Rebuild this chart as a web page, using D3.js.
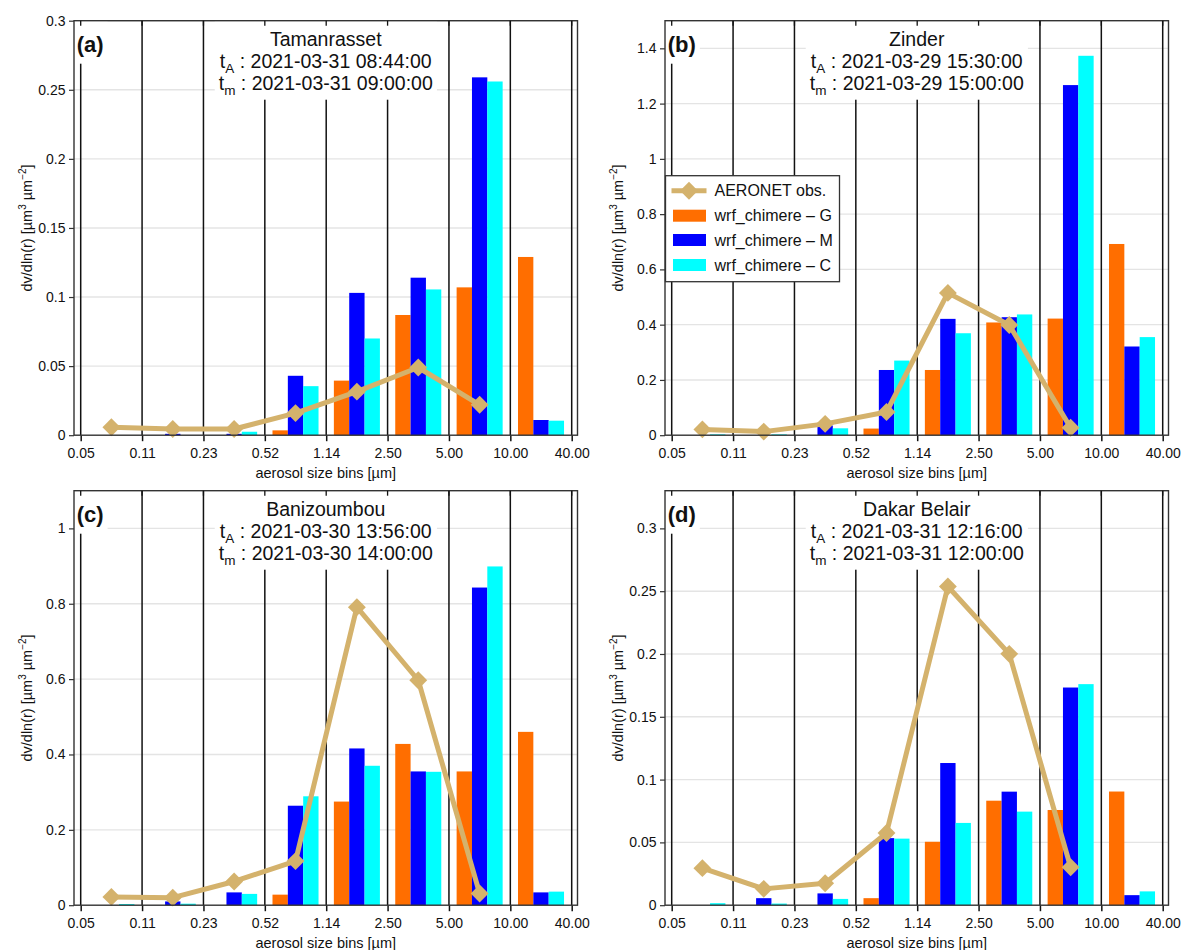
<!DOCTYPE html>
<html><head><meta charset="utf-8">
<script src="https://cdn.jsdelivr.net/npm/d3@7"></script>
<style>
body{margin:0;background:#fff;}
svg{display:block;font-family:"Liberation Sans",Arial,Helvetica,sans-serif;}
</style>
</head><body>
<svg id="chart" width="1181" height="950"></svg>
<script>
// ---------------- data ----------------
const binEdges = ["0.05","0.11","0.23","0.52","1.14","2.50","5.00","10.00","40.00"];
const seriesNames = ["wrf_chimere – G","wrf_chimere – M","wrf_chimere – C"];
const obsName = "AERONET obs.";
const stations = ["Tamanrasset","Zinder","Banizoumbou","Dakar Belair"];
const panelLetters = ["(a)","(b)","(c)","(d)"];
const timeAeronet = ["2021-03-31 08:44:00","2021-03-29 15:30:00","2021-03-30 13:56:00","2021-03-31 12:16:00"];
const timeModel   = ["2021-03-31 09:00:00","2021-03-29 15:00:00","2021-03-30 14:00:00","2021-03-31 12:00:00"];
const yMax = [0.3, 1.5, 1.1, 0.33];
const yTicksA = [0,0.05,0.1,0.15,0.2,0.25,0.3];
const yTicksB = [0,0.2,0.4,0.6,0.8,1,1.2,1.4];
const yTicksC = [0,0.2,0.4,0.6,0.8,1];
const yTicksD = [0,0.05,0.1,0.15,0.2,0.25,0.3];

// (a) Tamanrasset
const gA   = [0, 0, 0, 0.0035, 0.0395, 0.087, 0.107, 0.129];
const mA   = [0, 0.001, 0.001, 0.043, 0.103, 0.114, 0.259, 0.011];
const cA   = [0, 0, 0.0025, 0.0355, 0.070, 0.1055, 0.256, 0.0105];
const obsA = [0.0058, 0.0045, 0.0045, 0.016, 0.0315, 0.049, 0.022];
// (b) Zinder
const gB   = [0, 0, 0, 0.024, 0.236, 0.408, 0.422, 0.692];
const mB   = [0, 0, 0.035, 0.236, 0.421, 0.427, 1.267, 0.321];
const cB   = [0.003, 0.003, 0.025, 0.270, 0.369, 0.437, 1.373, 0.355];
const obsB = [0.021, 0.013, 0.041, 0.084, 0.515, 0.399, 0.027];
// (c) Banizoumbou
const gC   = [0, 0, 0, 0.028, 0.275, 0.428, 0.355, 0.460];
const mC   = [0, 0.010, 0.034, 0.264, 0.416, 0.355, 0.843, 0.034];
const cC   = [0.003, 0.004, 0.030, 0.289, 0.370, 0.354, 0.899, 0.036];
const obsC = [0.022, 0.020, 0.063, 0.117, 0.791, 0.597, 0.031];
// (d) Dakar Belair
const gD   = [0, 0, 0, 0.0056, 0.0505, 0.0832, 0.0758, 0.0905];
const mD   = [0, 0.0056, 0.0094, 0.0534, 0.1132, 0.0904, 0.1733, 0.008];
const cD   = [0.0016, 0.0013, 0.005, 0.053, 0.0655, 0.0745, 0.176, 0.011];
const obsD = [0.0295, 0.013, 0.0175, 0.0575, 0.2537, 0.2001, 0.0302];

const modelData = [[gA,mA,cA],[gB,mB,cB],[gC,mC,cC],[gD,mD,cD]];
const obsData = [obsA, obsB, obsC, obsD];
const yTicks = [yTicksA, yTicksB, yTicksC, yTicksD];

// ---------------- style / layout ----------------
const seriesColors = ["#ff6e00","#0000ff","#00ffff"];
const obsColor = "#d4b26c";
const colLeft = [74, 665];
const rowTop = [20.7, 490.7];
const pw = 503.5, ph = 414.5;

const svg = d3.select("#chart");

function diamond(sel, size){
  sel.attr("d", d3.symbol(d3.symbolSquare, size)());
}

modelData.forEach((series, i) => {
  const L = colLeft[i % 2], T = rowTop[Math.floor(i / 2)];
  const R = L + pw, B = T + ph;
  const g = svg.append("g");

  const x = d3.scalePoint().domain(binEdges).range([L + 6.7, R - 5.8]);
  const bins = d3.range(binEdges.length - 1);
  const xb = d3.scaleBand().domain(bins).range([L + 6.7, R - 5.8]).padding(0);
  const bw = xb.bandwidth();
  const xs = d3.scaleBand().domain(seriesNames).range([bw / 8, bw * 7 / 8]).padding(0);
  const y = d3.scaleLinear().domain([0, yMax[i]]).range([B, T]);

  // gridlines
  g.append("g").selectAll("line").data(yTicks[i].filter(v => v > 0)).join("line")
    .attr("x1", L).attr("x2", R).attr("y1", d => y(d)).attr("y2", d => y(d))
    .attr("stroke", "#e4e4e4").attr("stroke-width", 1.4);

  // bars
  seriesNames.forEach((s, k) => {
    g.append("g").selectAll("rect").data(series[k]).join("rect")
      .attr("x", (d, j) => xb(j) + xs(s))
      .attr("width", xs.bandwidth())
      .attr("y", d => y(d))
      .attr("height", d => B - y(d))
      .attr("fill", seriesColors[k]);
  });

  // vertical bin edge lines
  g.append("g").selectAll("line").data(binEdges).join("line")
    .attr("x1", d => x(d)).attr("x2", d => x(d))
    .attr("y1", T).attr("y2", B)
    .attr("stroke", "#111").attr("stroke-width", 1.5);

  // observation line
  const obs = obsData[i];
  g.append("path").datum(obs)
    .attr("fill", "none").attr("stroke", obsColor).attr("stroke-width", 5)
    .attr("stroke-linejoin", "round")
    .attr("d", d3.line().x((d, j) => xb(j) + bw / 2).y(d => y(d)));
  g.append("g").selectAll("path").data(obs).join("path")
    .call(diamond, 160)
    .attr("transform", (d, j) => `translate(${xb(j) + bw / 2},${y(d)}) rotate(45)`)
    .attr("fill", obsColor);

  // x axis (bottom ticks + labels)
  const xAxis = g.append("g").attr("transform", `translate(0,${B})`)
    .call(d3.axisBottom(x).tickSize(6).tickPadding(6.5));
  xAxis.select(".domain").remove();
  xAxis.selectAll("line").attr("stroke", "#111").attr("stroke-width", 1.5);
  xAxis.selectAll("text").attr("font-size", 14).attr("fill", "#111")
    .attr("font-family", '"Liberation Sans",Arial,sans-serif');

  // y axis
  const yAxis = g.append("g").attr("transform", `translate(${L},0)`)
    .call(d3.axisLeft(y).tickValues(yTicks[i]).tickFormat(d3.format("~g")).tickSize(5).tickPadding(3.5));
  yAxis.select(".domain").remove();
  yAxis.selectAll("line").attr("stroke", "#333").attr("stroke-width", 1.2);
  yAxis.selectAll("text").attr("font-size", 14).attr("fill", "#111")
    .attr("font-family", '"Liberation Sans",Arial,sans-serif');

  // title block
  const tg = g.append("g").attr("text-anchor", "middle").attr("font-size", 19.5).attr("fill", "#111");
  const cx = (L + R) / 2;
  tg.append("text").attr("x", cx).attr("y", T + 25.7).text(stations[i]);
  const t2 = tg.append("text").attr("x", cx).attr("y", T + 47.3);
  t2.append("tspan").text("t");
  t2.append("tspan").attr("font-size", 13.5).attr("dy", 5).text("A");
  t2.append("tspan").attr("dy", -5).text(" : " + timeAeronet[i]);
  const t3 = tg.append("text").attr("x", cx).attr("y", T + 69);
  t3.append("tspan").text("t");
  t3.append("tspan").attr("font-size", 13.5).attr("dy", 5).text("m");
  t3.append("tspan").attr("dy", -5).text(" : " + timeModel[i]);
  const tb = tg.node().getBBox();
  g.insert("rect", () => tg.node())
    .attr("x", tb.x - 4).attr("y", T).attr("width", tb.width + 8).attr("height", 79)
    .attr("fill", "#fff");

  // panel letter
  const lt = g.append("text").attr("x", L + 2.7).attr("y", T + 31.4)
    .attr("font-size", 22).attr("font-weight", "bold").attr("fill", "#111").text(panelLetters[i]);
  const lb = lt.node().getBBox();
  g.insert("rect", () => lt.node())
    .attr("x", L).attr("y", T).attr("width", lb.x + lb.width + 4 - L).attr("height", 43)
    .attr("fill", "#fff");

  // legend (panel b)
  if (i === 1) {
    const lg = g.append("g");
    const lx = L + 0.5, ly = T + 155;
    lg.append("rect").attr("x", lx).attr("y", ly).attr("width", 174).attr("height", 106)
      .attr("fill", "#fff").attr("stroke", "#333").attr("stroke-width", 1.3);
    const rowY = [ly + 15, ly + 40, ly + 64.3, ly + 89.3];
    lg.append("line").attr("x1", lx + 6).attr("x2", lx + 41).attr("y1", rowY[0]).attr("y2", rowY[0])
      .attr("stroke", obsColor).attr("stroke-width", 5);
    lg.append("path").call(diamond, 160)
      .attr("transform", `translate(${lx + 23.5},${rowY[0]}) rotate(45)`).attr("fill", obsColor);
    lg.selectAll("rect.sw").data(seriesNames).join("rect").attr("class", "sw")
      .attr("x", lx + 7.5).attr("width", 33).attr("y", (d, k) => rowY[k + 1] - 6).attr("height", 12)
      .attr("fill", (d, k) => seriesColors[k]);
    lg.selectAll("text").data([obsName].concat(seriesNames)).join("text")
      .attr("x", lx + 49).attr("y", (d, k) => rowY[k] + 5.7)
      .attr("font-size", 16).attr("fill", "#111").text(d => d);
  }

  // frame
  g.append("rect").attr("x", L).attr("y", T).attr("width", pw).attr("height", ph)
    .attr("fill", "none").attr("stroke", "#333").attr("stroke-width", 1.4);

  // top inward ticks
  g.append("g").selectAll("line").data(binEdges).join("line")
    .attr("x1", d => x(d)).attr("x2", d => x(d)).attr("y1", T).attr("y2", T + 5)
    .attr("stroke", "#111").attr("stroke-width", 1.3);

  // axis titles
  g.append("text").attr("x", cx).attr("y", B + 42.5).attr("text-anchor", "middle")
    .attr("font-size", 14.5).attr("fill", "#111").text("aerosol size bins [µm]");
  const yl = g.append("text").attr("text-anchor", "middle").attr("font-size", 14.5).attr("fill", "#111")
    .attr("transform", `translate(${L - 42},${(T + B) / 2}) rotate(-90)`);
  yl.append("tspan").text("dv/dln(r) [µm");
  yl.append("tspan").attr("font-size", 10).attr("dy", -6).text("3");
  yl.append("tspan").attr("dy", 6).text(" µm");
  yl.append("tspan").attr("font-size", 10).attr("dy", -6).text("−2");
  yl.append("tspan").attr("dy", 6).text("]");
});
</script>
</body></html>
